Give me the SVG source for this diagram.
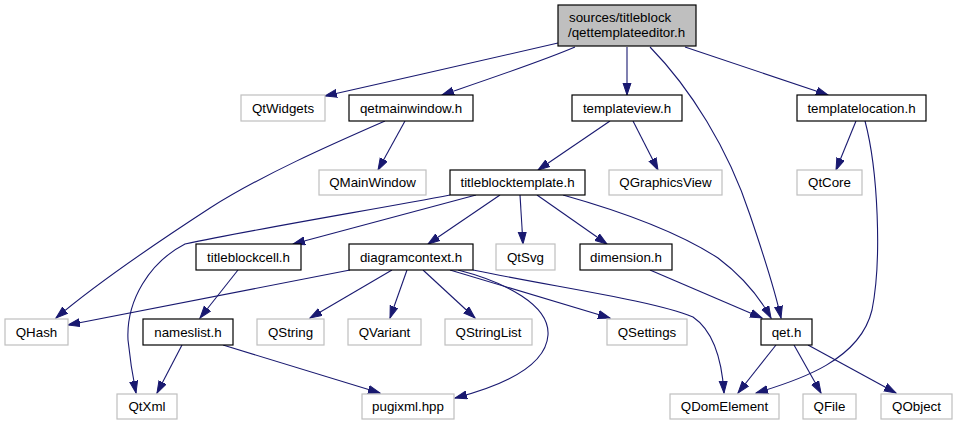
<svg xmlns="http://www.w3.org/2000/svg" width="957" height="425" viewBox="0 0 957 425">
<defs>
<marker id="ah" markerUnits="userSpaceOnUse" markerWidth="13" markerHeight="10" refX="12" refY="4.5" orient="auto">
<path d="M0,0.5 L12,4.5 L0,8.5 z" fill="#191970" stroke="#191970" stroke-width="1"/>
</marker>
<style>
rect.n{fill:#fff;stroke:#000;stroke-width:1.2}
rect.g{fill:#fff;stroke:#bfbfbf;stroke-width:1.2}
rect.r{fill:#bfbfbf;stroke:#000;stroke-width:1.2}
text{font-family:"Liberation Sans",Arial,sans-serif;font-size:13.33px;fill:#000}
text.c{text-anchor:middle}
#edges path{fill:none;stroke:#191970;stroke-width:1.1;marker-end:url(#ah)}
</style>
</defs>
<rect width="957" height="425" fill="#fff"/>
<g id="edges">
<path d="M558,43 C490,59 400,79 325,96"/>
<path d="M575,47 C540,62 480,82 442,95"/>
<path d="M627,47 L627,95"/>
<path d="M650,47 C690,88 728,148 750,215 C766,262 776,295 781,318"/>
<path d="M685,47 L828,95"/>
<path d="M405,121 L378,170"/>
<path d="M385,121 C330,145 262,175 210,208 C150,247 95,285 56,318"/>
<path d="M610,121 L538,170"/>
<path d="M633,121 L658,170"/>
<path d="M856,121 L836,170"/>
<path d="M865,121 C878,170 882,260 872,310 C860,360 800,380 756,393"/>
<path d="M450,195 C383,208 260,228 185,244 C150,262 126,300 128,340 C130,360 133,378 136,393"/>
<path d="M476,195 L293,244"/>
<path d="M500,195 L428,244"/>
<path d="M520,195 L523,244"/>
<path d="M537,195 L607,244"/>
<path d="M563,195 C620,211 678,232 718,258 C742,276 760,298 771,318"/>
<path d="M238,270 L200,318"/>
<path d="M350,270 L68,325"/>
<path d="M392,270 L310,318"/>
<path d="M407,270 L390,318"/>
<path d="M423,270 L475,318"/>
<path d="M450,270 L610,318"/>
<path d="M473,270 C560,288 650,300 693,317 C715,332 722,362 724,393"/>
<path d="M458,270 C505,282 550,305 548,335 C546,365 505,385 455,398"/>
<path d="M650,270 L762,318"/>
<path d="M182,345 L157,393"/>
<path d="M223,345 L380,393"/>
<path d="M776,345 L738,393"/>
<path d="M794,345 L821,393"/>
<path d="M808,345 L896,393"/>
</g>
<g id="root"><rect class="r" x="558" y="5" width="138" height="41"/><text x="569" y="22">sources/titleblock</text><text x="568" y="37">/qettemplateeditor.h</text></g>
<g id="QtWidgets"><rect class="g" x="241" y="95" width="84" height="26"/><text class="c" x="283" y="112.5">QtWidgets</text></g>
<g id="qetmainwindow"><rect class="n" x="349" y="95" width="124" height="26"/><text class="c" x="411" y="112.5">qetmainwindow.h</text></g>
<g id="templateview"><rect class="n" x="572" y="95" width="110" height="26"/><text class="c" x="627" y="112.5">templateview.h</text></g>
<g id="templatelocation"><rect class="n" x="797" y="95" width="129" height="26"/><text class="c" x="861.5" y="112.5">templatelocation.h</text></g>
<g id="QMainWindow"><rect class="g" x="319" y="170" width="107" height="25"/><text class="c" x="372.5" y="187">QMainWindow</text></g>
<g id="titleblocktemplate"><rect class="n" x="450" y="170" width="135" height="25"/><text class="c" x="517.5" y="187">titleblocktemplate.h</text></g>
<g id="QGraphicsView"><rect class="g" x="609" y="170" width="113" height="25"/><text class="c" x="665.5" y="187">QGraphicsView</text></g>
<g id="QtCore"><rect class="g" x="797" y="170" width="65" height="25"/><text class="c" x="829.5" y="187">QtCore</text></g>
<g id="titleblockcell"><rect class="n" x="196" y="244" width="105" height="26"/><text class="c" x="248.5" y="261.5">titleblockcell.h</text></g>
<g id="diagramcontext"><rect class="n" x="349" y="244" width="124" height="26"/><text class="c" x="411" y="261.5">diagramcontext.h</text></g>
<g id="QtSvg"><rect class="g" x="496" y="244" width="59" height="26"/><text class="c" x="525.5" y="261.5">QtSvg</text></g>
<g id="dimension"><rect class="n" x="580" y="244" width="92" height="26"/><text class="c" x="626" y="261.5">dimension.h</text></g>
<g id="QHash"><rect class="g" x="5" y="319" width="63" height="26"/><text class="c" x="36.5" y="336.5">QHash</text></g>
<g id="nameslist"><rect class="n" x="143" y="319" width="90" height="26"/><text class="c" x="188" y="336.5">nameslist.h</text></g>
<g id="QString"><rect class="g" x="257" y="319" width="67" height="26"/><text class="c" x="290.5" y="336.5">QString</text></g>
<g id="QVariant"><rect class="g" x="348" y="319" width="73" height="26"/><text class="c" x="384.5" y="336.5">QVariant</text></g>
<g id="QStringList"><rect class="g" x="445" y="319" width="87" height="26"/><text class="c" x="488.5" y="336.5">QStringList</text></g>
<g id="QSettings"><rect class="g" x="607" y="319" width="80" height="26"/><text class="c" x="647" y="336.5">QSettings</text></g>
<g id="qet"><rect class="n" x="761" y="319" width="51" height="26"/><text class="c" x="786.5" y="336.5">qet.h</text></g>
<g id="QtXml"><rect class="g" x="117" y="394" width="60" height="25"/><text class="c" x="147" y="411">QtXml</text></g>
<g id="pugixml"><rect class="g" x="362" y="394" width="92" height="25"/><text class="c" x="408" y="411">pugixml.hpp</text></g>
<g id="QDomElement"><rect class="g" x="670" y="394" width="109" height="25"/><text class="c" x="724.5" y="411">QDomElement</text></g>
<g id="QFile"><rect class="g" x="803" y="394" width="53" height="25"/><text class="c" x="829.5" y="411">QFile</text></g>
<g id="QObject"><rect class="g" x="881" y="394" width="71" height="25"/><text class="c" x="916.5" y="411">QObject</text></g>
</svg>
